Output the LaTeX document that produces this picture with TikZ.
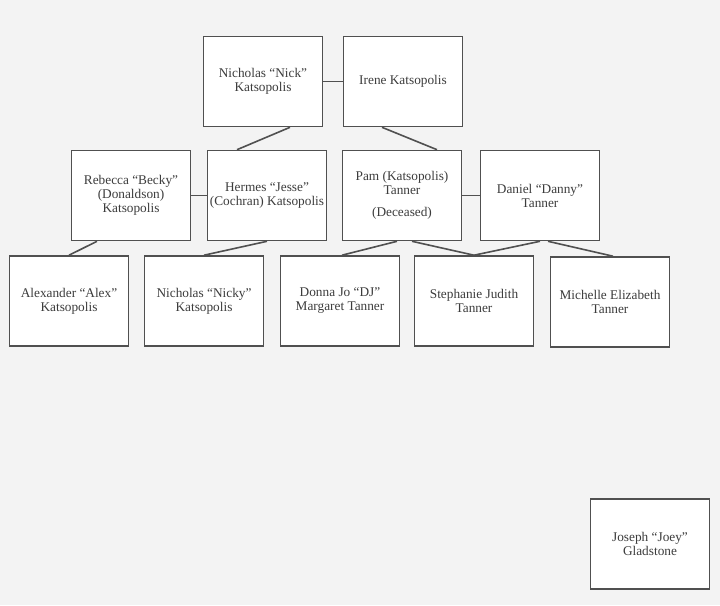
\documentclass[tikz,border=0pt]{standalone}
\usepackage{fontspec}
\setmainfont{Liberation Serif}
\usetikzlibrary{calc}
\definecolor{pagebg}{RGB}{243,243,243}
\definecolor{boxline}{RGB}{80,80,80}
\definecolor{nametext}{RGB}{60,60,60}

\begin{document}
\begin{tikzpicture}[x=1pt,y=-1pt,
    person/.style={draw=boxline, fill=white, line width=1.6pt, minimum width=119pt,
          minimum height=90pt, inner sep=2pt, align=center, text=nametext,
          font=\fontsize{13.3}{14}\selectfont},
    tie/.style={draw=boxline, line width=1.6pt}]
    \fill[pagebg] (0,0) rectangle (720,605);
    \useasboundingbox (0,0) rectangle (720,605);
    % grandparents
    \node[person] (nick) at (263,81.5) {Nicholas ``Nick''\\ Katsopolis};
    \node[person] (irene) at (403,81.5) {Irene Katsopolis};
    % parents
    \node[person] (becky) at (131,195.5) {Rebecca ``Becky''\\ (Donaldson)\\ Katsopolis};
    \node[person] (jesse) at (267,195.5) {Hermes ``Jesse''\\ (Cochran) Katsopolis};
    \node[person] (pam) at (402,195.5) {Pam (Katsopolis)\\ Tanner\\[8pt] (Deceased)};
    \node[person] (danny) at (540,195.5) {Daniel ``Danny''\\ Tanner};
    % children
    \node[person] (alex) at (69,301) {Alexander ``Alex''\\ Katsopolis};
    \node[person] (nicky) at (204,301) {Nicholas ``Nicky''\\ Katsopolis};
    \node[person] (dj) at (340,301) {Donna Jo ``DJ''\\ Margaret Tanner};
    \node[person] (steph) at (474,301) {Stephanie Judith\\ Tanner};
    \node[person] (michelle) at (610,302) {Michelle Elizabeth\\ Tanner};
    % friend
    \node[person] (joey) at (650,544) {Joseph ``Joey''\\ Gladstone};

    % couples
    \draw[tie] (nick.east) -- (irene.west);
    \draw[tie] (becky.east) -- (jesse.west);
    \draw[tie] (pam.east) -- (danny.west);
    % descent
    \draw[tie] ([xshift=27pt]nick.south) -- ([xshift=-30pt]jesse.north);
    \draw[tie] ([xshift=-21pt]irene.south) -- ([xshift=35pt]pam.north);
    \draw[tie] ([xshift=-34pt]becky.south) -- (alex.north);
    \draw[tie] (jesse.south) -- (nicky.north);
    \draw[tie] ([xshift=-5pt]pam.south) -- ([xshift=2pt]dj.north);
    \draw[tie] ([xshift=10pt]pam.south) -- (steph.north);
    \draw[tie] (danny.south) -- (steph.north);
    \draw[tie] ([xshift=8pt]danny.south) -- ([xshift=3pt]michelle.north);
\end{tikzpicture}
\end{document}
